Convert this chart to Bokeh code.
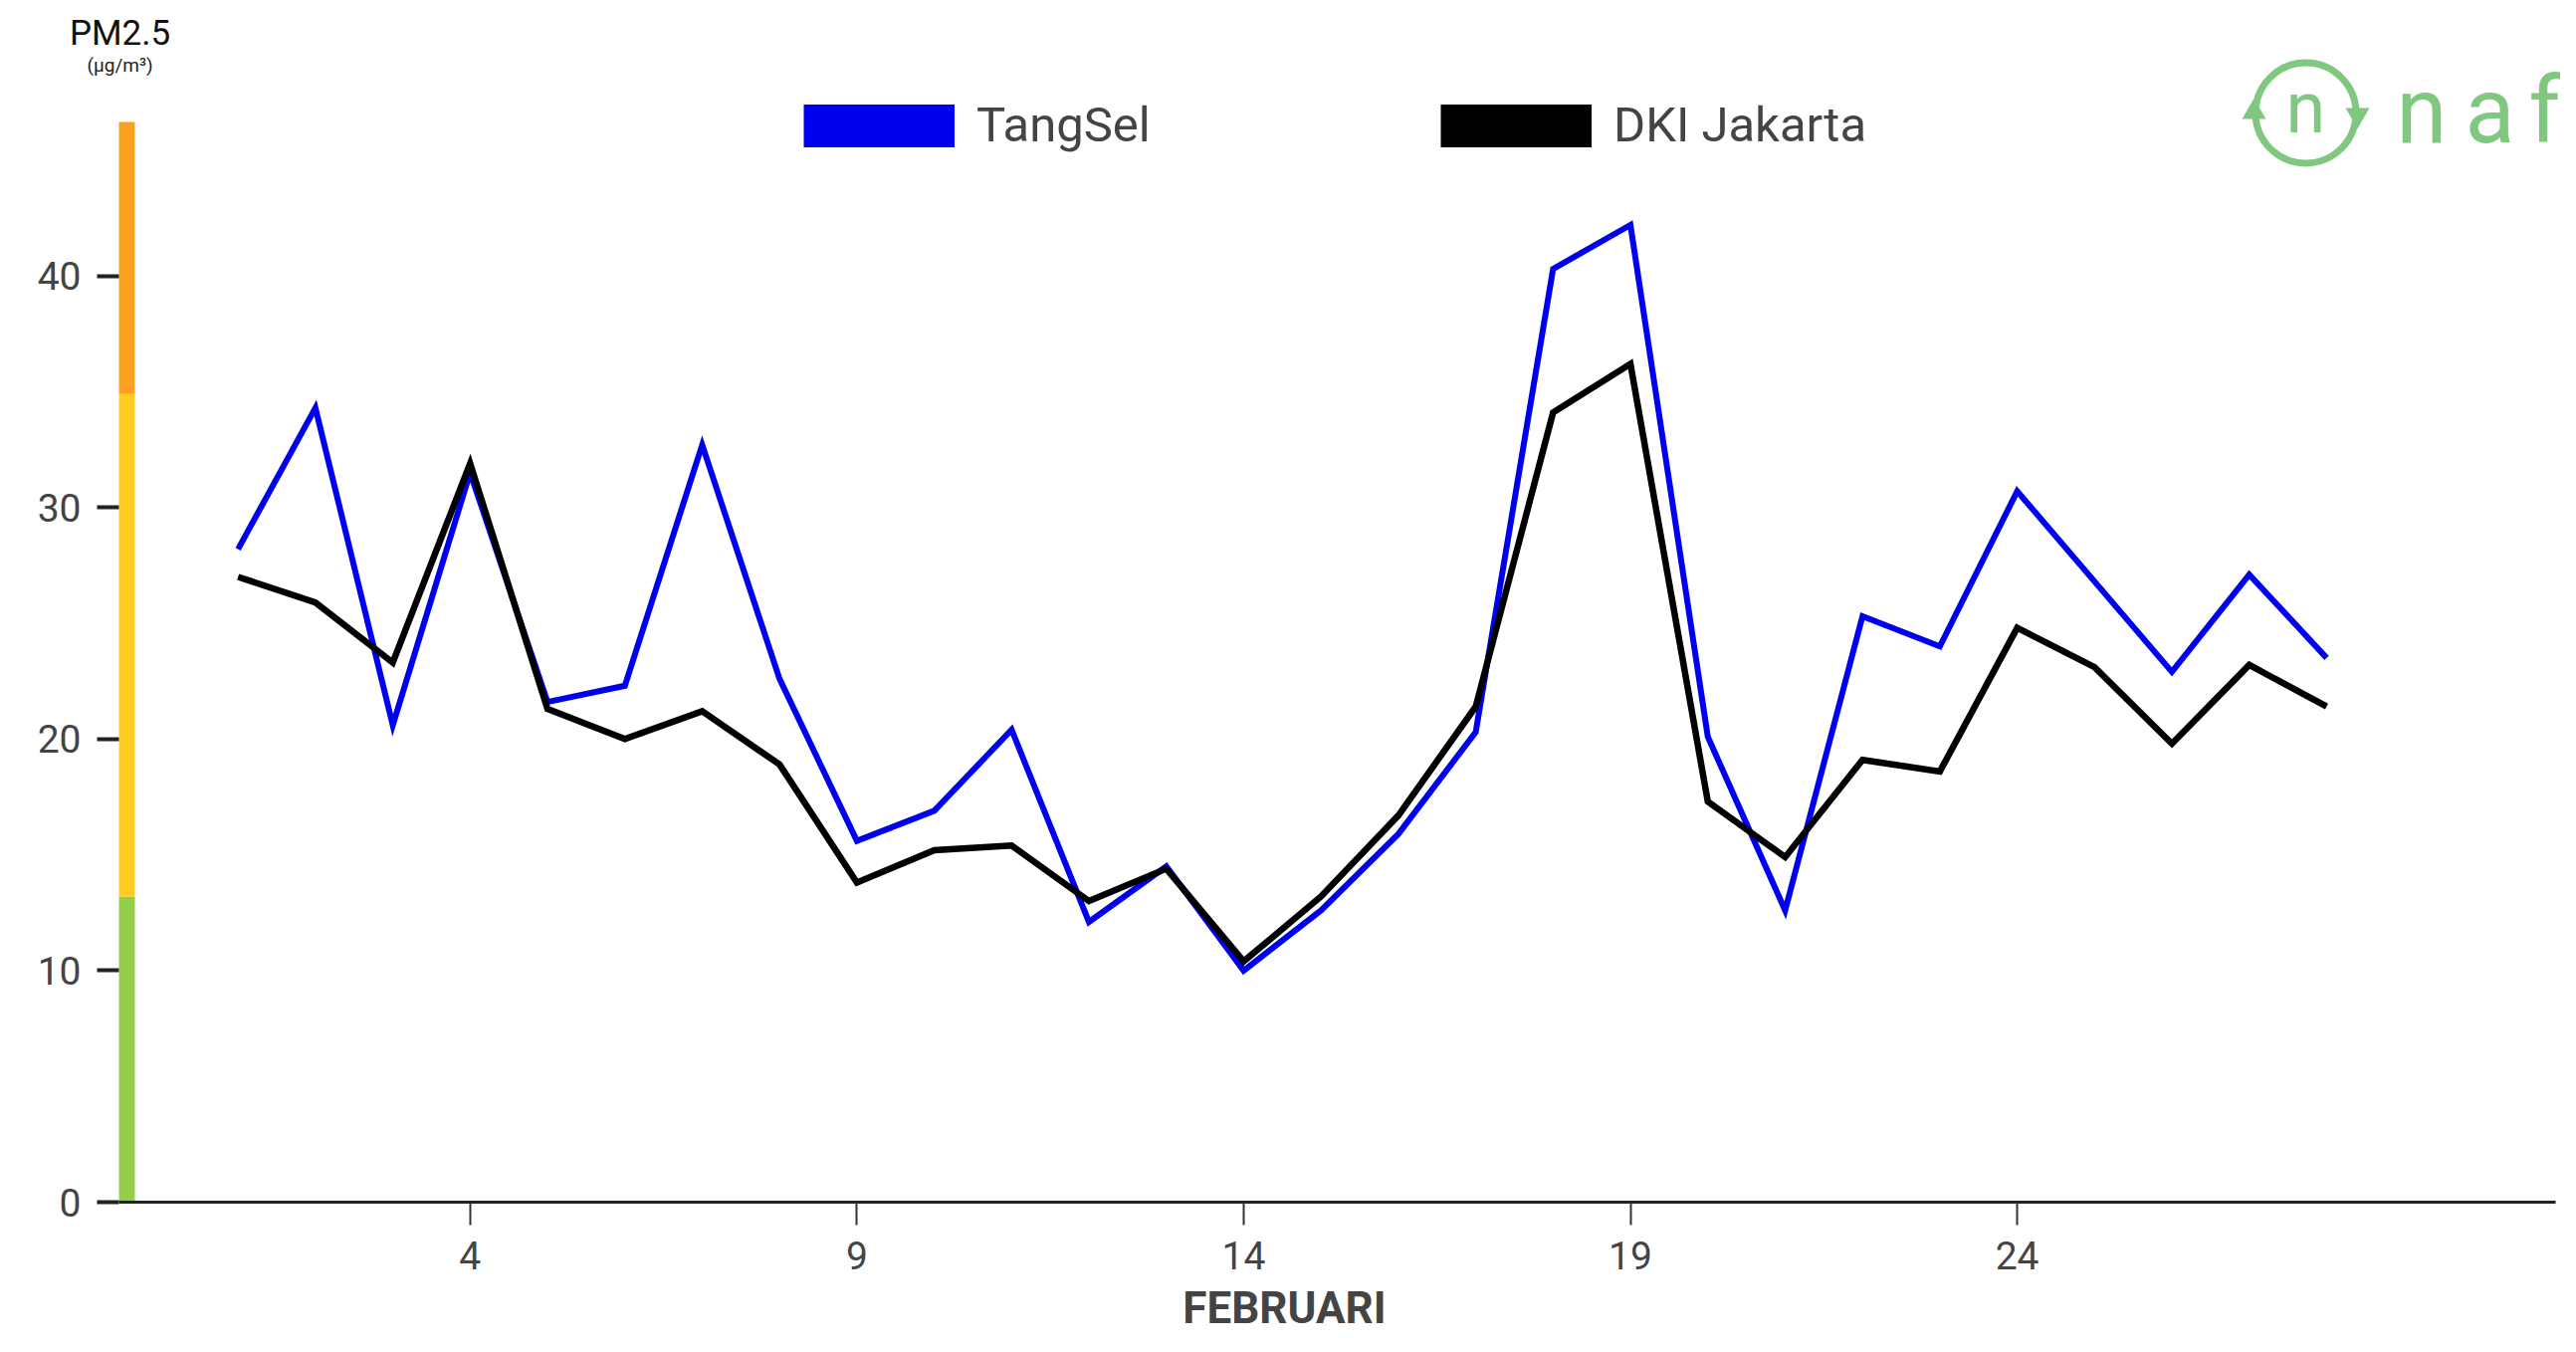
from bokeh.plotting import figure
from bokeh.models import Range1d, FixedTicker, Legend, LegendItem, Label
from bokeh.embed import file_html
from bokeh.resources import INLINE

# ---------------- data ----------------
days = list(range(1, 29))
tangsel = [28.2, 34.3, 20.6, 31.5, 21.6, 22.3, 32.7, 22.6, 15.6, 16.9,
           20.4, 12.1, 14.5, 10.0, 12.6, 15.9, 20.3, 40.3, 42.2, 20.1,
           12.6, 25.3, 24.0, 30.7, 26.8, 22.9, 27.1, 23.5]
dki = [27.0, 25.9, 23.3, 31.9, 21.3, 20.0, 21.2, 18.9, 13.8, 15.2,
       15.4, 13.0, 14.4, 10.4, 13.2, 16.7, 21.4, 34.1, 36.2, 17.3,
       14.9, 19.1, 18.6, 24.8, 23.1, 19.8, 23.2, 21.4]
series_names = ["TangSel", "DKI Jakarta"]
x_ticks = [4, 9, 14, 19, 24]
y_ticks = [0, 10, 20, 30, 40]
band_edges = [0, 13.2, 34.9, 46.65]

# ---------------- style / layout ----------------
series_colors = ["#0000F0", "#000000"]
band_colors = ["#93CD4B", "#FFCD22", "#FCA022"]
green = "#80C77F"
FONT = "Roboto"

W, H = 2572, 1342
AX_PX, AXR_PX, AX_PY = 119, 2567, 1207      # axis corner / axis end in pixels
X_AX, X_AX_END = -0.54, 30.96               # data x at those pixels
PPD = (AXR_PX - AX_PX) / (X_AX_END - X_AX)
PPU = 23.26
X_START = X_AX - AX_PX / PPD
X_END = X_START + W / PPD
Y_END = AX_PY / PPU
Y_START = -(H - AX_PY) / PPU


def sx(px):
    return X_START + px / PPD


def sy(py):
    return (AX_PY - py) / PPU


p = figure(width=W, height=H,
           x_range=Range1d(X_START, X_END), y_range=Range1d(Y_START, Y_END),
           output_backend="svg", toolbar_location=None,
           min_border_left=0, min_border_right=0,
           min_border_top=0, min_border_bottom=0)
p.grid.visible = False
p.outline_line_color = None
p.background_fill_color = "white"
p.border_fill_color = "white"

# x axis (floating at y = 0)
xa = p.xaxis[0]
xa.fixed_location = 0
xa.bounds = (X_AX, X_AX_END)
xa.ticker = FixedTicker(ticks=x_ticks)
xa.axis_line_color = "#222222"
xa.axis_line_width = 3
xa.major_tick_out = 23
xa.major_tick_in = 0
xa.major_tick_line_color = "#333333"
xa.major_tick_line_width = 2
xa.minor_tick_out = 0
xa.minor_tick_in = 0
xa.major_label_standoff = 16
xa.major_label_text_font = FONT
xa.major_label_text_font_size = "39px"
xa.major_label_text_color = "#444444"

# y axis (floating at the coloured bar)
ya = p.yaxis[0]
ya.fixed_location = X_AX
ya.ticker = FixedTicker(ticks=y_ticks)
ya.axis_line_color = None
ya.major_tick_out = 22
ya.major_tick_in = 0
ya.major_tick_line_color = "#222222"
ya.major_tick_line_width = 4
ya.minor_tick_out = 0
ya.minor_tick_in = 0
ya.major_label_standoff = 16
ya.major_label_text_font = FONT
ya.major_label_text_font_size = "39px"
ya.major_label_text_color = "#444444"

# coloured quality bar along the y axis
bar_w = 16 / PPD
p.quad(left=[X_AX] * 3, right=[X_AX + bar_w] * 3,
       bottom=band_edges[:-1], top=band_edges[1:],
       fill_color=band_colors, line_color=None, level="underlay")

# series lines
p.line(days, tangsel, line_color=series_colors[0], line_width=6, line_join="miter")
p.line(days, dki, line_color=series_colors[1], line_width=6.5, line_join="miter")

# legends (two single-item legends with block swatches)
nan = float("nan")
for name, col, vx in zip(series_names, series_colors, [807, 1447]):
    dummy = p.line(x=[nan], y=[nan], line_color=col, line_width=43)
    lg = Legend(items=[LegendItem(label=name, renderers=[dummy])],
                location=(vx, H - 155.5), orientation="horizontal",
                glyph_width=152, glyph_height=60, label_height=60,
                label_standoff=22, padding=0, margin=0, spacing=0,
                border_line_color=None, background_fill_alpha=0,
                label_text_font=FONT, label_text_font_size="49px",
                label_text_color="#444444")
    p.add_layout(lg, "center")


def add_text(px, py, text, size, color, align="center", style="normal"):
    p.add_layout(Label(x=sx(px), y=sy(py), text=text, text_align=align,
                       text_baseline="middle", text_font=FONT,
                       text_font_style=style, text_font_size=size,
                       text_color=color))


# axis titles
add_text(120, 33, "PM2.5", "35px", "#111111")
add_text(120, 65, "(µg/m³)", "19px", "#222222")
add_text(1290, 1313, "FEBRUARI", "44px", "#444444", style="bold")

# logo
p.scatter(x=[sx(2316)], y=[sy(113)], marker="circle", size=101,
          fill_color=None, line_color=green, line_width=7)
p.scatter(x=[sx(2264)], y=[sy(112)], marker="triangle", size=24,
          fill_color=green, line_color=None)
p.scatter(x=[sx(2368)], y=[sy(115)], marker="inverted_triangle", size=24,
          fill_color=green, line_color=None)
add_text(2316, 108, "n", "72px", green)
for ch, px in zip(["n", "a", "f"], [2407, 2476, 2540]):
    add_text(px, 111, ch, "92px", green, align="left")

open("out.html", "w").write(file_html(p, INLINE))
